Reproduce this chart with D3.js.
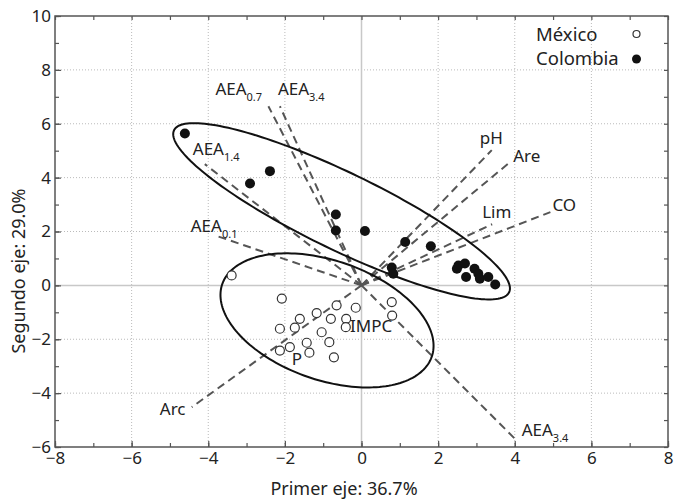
<!DOCTYPE html>
<html>
<head>
<meta charset="utf-8">
<script src="https://cdn.jsdelivr.net/npm/d3@7"></script>
<style>
  body { margin: 0; background: #fff; }
  text { font-family: "Noto Sans", sans-serif; fill: #222; }
</style>
</head>
<body>
<svg id="chart" width="675" height="503"></svg>
<script>
// México scores
const mexX = [-3.39, -2.08, -1.61, -1.17, -0.65, -0.15, 0.79, 0.80, -0.80, -0.40, -0.41, -2.13, -1.74, -1.04, -1.43, -0.84, -2.13, -1.87, -1.36, -0.72];
const mexY = [0.37, -0.49, -1.24, -1.03, -0.74, -0.83, -0.62, -1.12, -1.24, -1.24, -1.55, -1.61, -1.57, -1.74, -2.13, -2.11, -2.42, -2.29, -2.50, -2.67];

// Colombia scores
const colX = [-4.61, -2.91, -2.39, -0.67, -0.67, 0.09, 0.79, 0.83, 1.14, 1.81, 2.53, 2.70, 2.49, 2.73, 2.95, 3.05, 3.09, 3.31, 3.49];
const colY = [5.64, 3.78, 4.24, 2.63, 2.04, 2.02, 0.66, 0.43, 1.61, 1.45, 0.74, 0.81, 0.62, 0.31, 0.62, 0.43, 0.25, 0.31, 0.03];

// loading vectors (end points)
const vecNames = ["AEA", "AEA", "AEA", "AEA", "pH", "Are", "Lim", "CO", "Arc", "AEA"];
const vecSubs = ["0.7", "3.4", "1.4", "0.1", "", "", "", "", "", "3.4"];
const vecX = [-2.43, -2.13, -4.09, -3.83, 3.40, 3.83, 3.41, 4.93, -4.43, 4.05];
const vecY = [6.65, 6.65, 4.50, 1.86, 5.02, 4.52, 2.27, 2.72, -4.52, -5.76];

// variables shown only as text
const extraNames = ["IMPC", "P"];
const extraX = [-0.30, -1.82];
const extraY = [-1.74, -2.97];

// confidence ellipses: centre and two conjugate semi-axes (data units)
const mexEllipse = { c: [-0.90, -1.30], u: [2.734, -1.349], v: [-0.509, -2.093] };
const colEllipse = { c: [-0.52, 2.75], u: [4.373, -3.008], v: [-0.438, -1.289] };

const xMajor = d3.range(-8, 9, 2);
const yMajor = d3.range(-6, 11, 2);
const xMinor = d3.range(-8, 9, 1);
const yMinor = d3.range(-6, 11, 1);

// label nudges in px from the vector tip
const labelOffsets = [[-53, -11], [-2, -11], [-12, -9], [-24, -3], [-12, -6], [5, -2], [-10, -6], [2, -1], [-32, 8], [5, -5]];

const svg = d3.select("#chart");
const margin = { top: 16, right: 7, bottom: 56, left: 55 };
const width = 675 - margin.left - margin.right;
const height = 503 - margin.top - margin.bottom;

const x = d3.scaleLinear().domain([-8, 8]).range([margin.left, margin.left + width]);
const y = d3.scaleLinear().domain([-6, 10]).range([margin.top + height, margin.top]);

// grid
svg.append("g").selectAll("line")
    .data(xMajor.filter(d => d > -8 && d < 8 && d !== 0))
    .enter().append("line")
    .attr("x1", d => x(d)).attr("x2", d => x(d))
    .attr("y1", y(-6)).attr("y2", y(10))
    .attr("stroke", "#bbb").attr("stroke-dasharray", "1,2");
svg.append("g").selectAll("line")
    .data(yMajor.filter(d => d > -6 && d < 10 && d !== 0))
    .enter().append("line")
    .attr("x1", x(-8)).attr("x2", x(8))
    .attr("y1", d => y(d)).attr("y2", d => y(d))
    .attr("stroke", "#bbb").attr("stroke-dasharray", "1,2");

// zero lines
svg.append("line").attr("x1", x(-8)).attr("x2", x(8)).attr("y1", y(0)).attr("y2", y(0))
    .attr("stroke", "#c8c8c8").attr("stroke-width", 1.5);
svg.append("line").attr("x1", x(0)).attr("x2", x(0)).attr("y1", y(-6)).attr("y2", y(10))
    .attr("stroke", "#c8c8c8").attr("stroke-width", 1.5);

// axes
function styleAxis(g) {
  g.select(".domain").remove();
  g.selectAll(".tick line").attr("stroke", "#555").attr("stroke-width", 1.2);
  g.selectAll("text").style("font-size", "17px").attr("fill", "#222");
}
svg.append("g").attr("transform", `translate(0,${y(-6)})`)
    .call(d3.axisBottom(x).tickValues(xMinor).tickSize(-4).tickFormat("")).call(styleAxis);
svg.append("g").attr("transform", `translate(0,${y(-6)})`)
    .call(d3.axisBottom(x).tickValues(xMajor).tickSize(-6).tickPadding(5).tickFormat(d3.format("d"))).call(styleAxis);
svg.append("g").attr("transform", `translate(0,${y(10)})`)
    .call(d3.axisTop(x).tickValues(xMinor).tickSize(-4).tickFormat("")).call(styleAxis);
svg.append("g").attr("transform", `translate(${x(-8)},0)`)
    .call(d3.axisLeft(y).tickValues(yMinor).tickSize(-4).tickFormat("")).call(styleAxis);
svg.append("g").attr("transform", `translate(${x(-8)},0)`)
    .call(d3.axisLeft(y).tickValues(yMajor).tickSize(-6).tickPadding(4).tickFormat(d3.format("d"))).call(styleAxis);
svg.append("g").attr("transform", `translate(${x(8)},0)`)
    .call(d3.axisRight(y).tickValues(yMinor).tickSize(-4).tickFormat("")).call(styleAxis);

// frame
svg.append("rect")
    .attr("x", x(-8)).attr("y", y(10))
    .attr("width", x(8) - x(-8)).attr("height", y(-6) - y(10))
    .attr("fill", "none").attr("stroke", "#555").attr("stroke-width", 1.5);

// vectors
const vecs = vecNames.map((n, i) => ({ name: n, sub: vecSubs[i], x: vecX[i], y: vecY[i], off: labelOffsets[i] }));
svg.append("g").selectAll("line")
    .data(vecs)
    .enter().append("line")
    .attr("x1", x(0)).attr("y1", y(0))
    .attr("x2", d => x(d.x)).attr("y2", d => y(d.y))
    .attr("stroke", "#555").attr("stroke-width", 2)
    .attr("stroke-dasharray", "8,5");

// ellipses
function ellipsePts(e) {
  return d3.range(0, 2 * Math.PI, Math.PI / 90).map(t => [
    e.c[0] + e.u[0] * Math.cos(t) + e.v[0] * Math.sin(t),
    e.c[1] + e.u[1] * Math.cos(t) + e.v[1] * Math.sin(t)
  ]);
}
const ell = d3.line().x(d => x(d[0])).y(d => y(d[1])).curve(d3.curveLinearClosed);
[mexEllipse, colEllipse].forEach(e => {
  svg.append("path").attr("d", ell(ellipsePts(e)))
      .attr("fill", "none").attr("stroke", "#111").attr("stroke-width", 2);
});

// points
svg.append("g").selectAll("circle")
    .data(mexX.map((v, i) => [v, mexY[i]]))
    .enter().append("circle")
    .attr("cx", d => x(d[0])).attr("cy", d => y(d[1])).attr("r", 4.5)
    .attr("fill", "#fff").attr("stroke", "#333").attr("stroke-width", 1.2);
svg.append("g").selectAll("circle")
    .data(colX.map((v, i) => [v, colY[i]]))
    .enter().append("circle")
    .attr("cx", d => x(d[0])).attr("cy", d => y(d[1])).attr("r", 5)
    .attr("fill", "#111");

// vector labels
const lbl = svg.append("g").selectAll("text")
    .data(vecs)
    .enter().append("text")
    .attr("x", d => x(d.x) + d.off[0]).attr("y", d => y(d.y) + d.off[1])
    .style("font-size", "17px");
lbl.append("tspan").text(d => d.name);
lbl.filter(d => d.sub).append("tspan")
    .attr("dy", 6).style("font-size", "11px").text(d => d.sub);

svg.append("g").selectAll("text")
    .data(extraNames)
    .enter().append("text")
    .attr("x", (d, i) => x(extraX[i])).attr("y", (d, i) => y(extraY[i]))
    .style("font-size", "17px")
    .text(d => d);

// legend
const legend = svg.append("g");
legend.append("text").attr("x", 536).attr("y", 41).style("font-size", "18.5px").text("México");
legend.append("circle").attr("cx", 636.5).attr("cy", 34).attr("r", 3.5)
    .attr("fill", "#fff").attr("stroke", "#333").attr("stroke-width", 1.2);
legend.append("text").attr("x", 536).attr("y", 65).style("font-size", "18.5px").text("Colombia");
legend.append("circle").attr("cx", 636.5).attr("cy", 59).attr("r", 4.5).attr("fill", "#111");

// axis titles
svg.append("text")
    .attr("x", 344).attr("y", 495)
    .attr("text-anchor", "middle")
    .style("font-size", "18px")
    .text("Primer eje: 36.7%");
svg.append("text")
    .attr("transform", "translate(25,271) rotate(-90)")
    .attr("text-anchor", "middle")
    .style("font-size", "18px")
    .text("Segundo eje: 29.0%");
</script>
</body>
</html>
